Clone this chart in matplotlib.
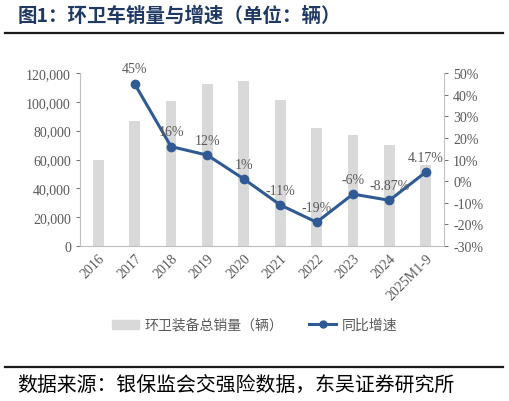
import numpy as np
import matplotlib
matplotlib.use("Agg")
import matplotlib.pyplot as plt
from matplotlib.lines import Line2D
import matplotlib.patches as mpatches

plt.rcParams['font.family'] = ['Liberation Serif', 'Noto Sans CJK SC']

years = ["2016", "2017", "2018", "2019", "2020", "2021", "2022", "2023", "2024", "2025M1-9"]
sales = [60000, 86700, 100300, 112700, 114200, 101500, 82000, 77000, 70300, 56200]
growth = [None, 45, 16, 12, 1, -11, -19, -6, -8.87, 4.17]
growth_labels = ["", "45%", "16%", "12%", "1%", "-11%", "-19%", "-6%", "-8.87%", "4.17%"]

GRAY = "#595959"
BAR = "#d9d9d9"
LINE = "#2f5a94"
CJK = ['Noto Sans CJK SC']

fig = plt.figure(figsize=(5.09, 4.02), dpi=100)
ax = fig.add_axes([80 / 509, 1 - 247 / 402, 364 / 509, 173 / 402])
x = np.arange(len(years))
ax.bar(x, sales, width=0.3, color=BAR, zorder=1)
ax.set_xlim(-0.5, len(years) - 0.5)
ax.set_ylim(0, 120000)
ax.set_yticks(np.arange(0, 120001, 20000))
ax.set_yticklabels([f"{v:,}" for v in range(0, 120001, 20000)])
ax.set_xticks(x)
ax.set_xticklabels(years, rotation=45, ha="right", rotation_mode="anchor")
ax.tick_params(axis="y", colors=GRAY, labelsize=10, length=3, width=0.6)
ax.tick_params(axis="x", colors=GRAY, labelsize=10, length=0, pad=4)
for s in ["top", "right"]:
    ax.spines[s].set_visible(False)
for s in ["left", "bottom"]:
    ax.spines[s].set_color("#bfbfbf")
    ax.spines[s].set_linewidth(0.8)

ax2 = ax.twinx()
gx = [i for i, g in enumerate(growth) if g is not None]
gy = [g for g in growth if g is not None]
ax2.plot(gx, gy, color=LINE, lw=2.2, marker="o", ms=6, zorder=3)
ax2.set_ylim(-30, 50)
ax2.set_yticks(np.arange(-30, 51, 10))
ax2.set_yticklabels([f"{v}%" for v in range(-30, 51, 10)])
ax2.tick_params(axis="y", colors=GRAY, labelsize=10, length=3, width=0.6)
for s in ["top", "left", "bottom"]:
    ax2.spines[s].set_visible(False)
ax2.spines["right"].set_color("#bfbfbf")
ax2.spines["right"].set_linewidth(0.8)

for i, g in enumerate(growth):
    if g is None:
        continue
    ax2.annotate(growth_labels[i], (i, g), xytext=(0, 6), textcoords="offset points",
                 ha="center", va="bottom", fontsize=10, color=GRAY)

# legend
handles = [mpatches.Patch(color=BAR, label="环卫装备总销量（辆）"),
           Line2D([0], [0], color=LINE, lw=2.2, marker="o", ms=5, label="同比增速")]
leg = fig.legend(handles=handles, loc="center", bbox_to_anchor=(0.5, 1 - 326 / 402),
                 ncol=2, frameon=False, prop={"family": CJK, "size": 10},
                 handlelength=2.0, handleheight=0.6, columnspacing=1.8, handletextpad=0.4)
for t in leg.get_texts():
    t.set_color(GRAY)

# title and source
fig.text(18 / 509, 1 - 16 / 402, "图1：环卫车销量与增速（单位：辆）", fontsize=14,
         fontweight="bold", color="#1f3864", family=CJK, va="center", ha="left")
fig.add_artist(Line2D([5 / 509, 503 / 509], [1 - 34 / 402] * 2, color="#1a1a1a", lw=1.6))
fig.add_artist(Line2D([5 / 509, 503 / 509], [1 - 368 / 402] * 2, color="#1a1a1a", lw=1.6))
fig.text(17 / 509, 1 - 386 / 402, "数据来源：银保监会交强险数据，东吴证券研究所", fontsize=14.3,
         color="black", family=CJK, va="center", ha="left")

fig.savefig("out.png", dpi=100)
